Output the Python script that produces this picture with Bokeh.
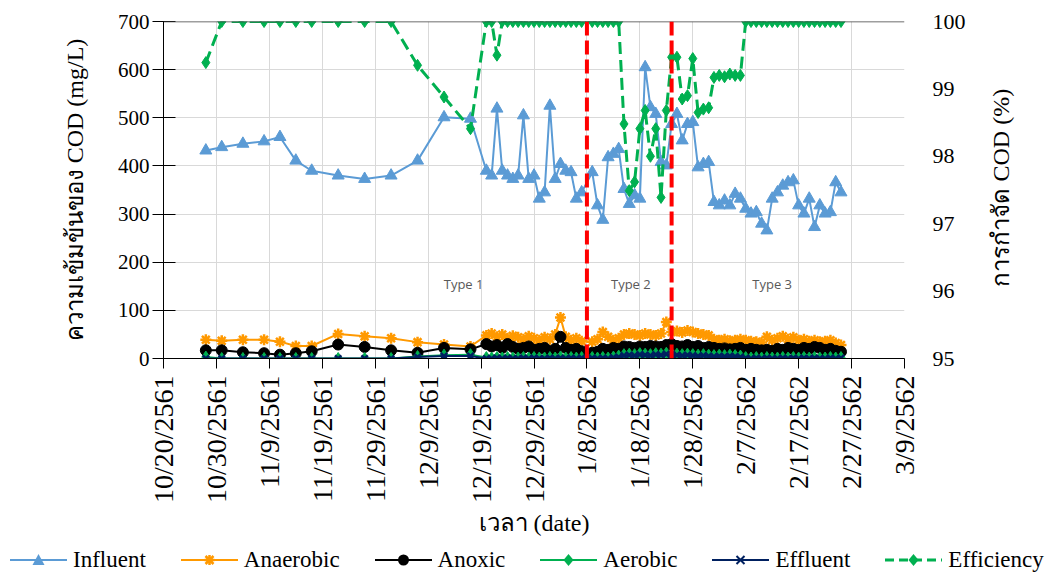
import math
import pandas as pd
from bokeh.plotting import figure
from bokeh.layouts import column
from bokeh.models import (Range1d, LinearAxis, FixedTicker, Span, Label, Div,
                          ColumnDataSource)
from bokeh.embed import file_html
from bokeh.resources import INLINE

# ---------------- data ----------------
axis_start = "2018-10-20"          # 10/20/2561 (Thai Buddhist year)

tick_labels = ["10/20/2561", "10/30/2561", "11/9/2561", "11/19/2561", "11/29/2561",
               "12/9/2561", "12/19/2561", "12/29/2561", "1/8/2562", "1/18/2562",
               "1/28/2562", "2/7/2562", "2/17/2562", "2/27/2562", "3/9/2562"]

sparse_dates = ["2018-10-28", "2018-10-31", "2018-11-04", "2018-11-08", "2018-11-11",
                "2018-11-14", "2018-11-17", "2018-11-22", "2018-11-27", "2018-12-02",
                "2018-12-07", "2018-12-12", "2018-12-17"]
daily_start, daily_end, missing_day = "2018-12-20", "2019-02-25", "2019-01-08"

phase_dates = ["2019-01-08", "2019-01-24"]
phase_names = ["Type 1", "Type 2", "Type 3"]

series_names = ["Influent", "Anaerobic", "Anoxic", "Aerobic", "Effluent", "Efficiency"]
series_cols = ["influent", "anaerobic", "anoxic", "aerobic", "effluent", "efficiency"]

influent = [432, 439, 446, 451, 460, 411, 390, 380, 373, 380, 411, 501, 498,
            390, 380, 519, 390, 380, 373, 380, 505, 373, 380, 332, 345, 525, 373, 404,
            390, 387, 332, 345,
            387, 318, 288,
            418, 425, 435, 352, 321, 339, 332, 605, 522, 508, 408, 401, 487, 508, 453,
            487, 491, 397, 404, 408, 325, 318, 328,
            318, 342, 332, 311, 301, 304, 280, 266, 332, 345, 359, 366, 370, 318, 301,
            332, 273, 318, 301, 304, 366, 345]

anaerobic = [39, 37, 39, 39, 35, 26, 26, 51, 46, 42, 34, 29, 25,
             48, 52, 45, 50, 42, 47, 44, 40, 46, 42, 38, 44, 40, 50, 85, 45, 38, 42, 36,
             35, 40, 55, 45, 38, 42, 50, 52, 50, 48, 52, 50, 48, 52, 76, 55, 57, 54, 58,
             55, 52, 50, 48, 40, 38, 40, 37, 38, 40, 38, 36, 35, 33, 45, 38, 42, 46, 40,
             44, 38, 40, 36, 38, 35, 36, 38, 32, 28]

anoxic = [17, 17, 13, 11, 8, 11, 15, 29, 24, 17, 12, 22, 19,
          30, 25, 28, 22, 30, 24, 20, 22, 25, 18, 20, 22, 15, 20, 45, 22, 18, 20, 15,
          12, 14, 20, 18, 22, 20, 25, 24, 22, 25, 24, 26, 25, 24, 28, 30, 26, 25, 28,
          24, 26, 22, 24, 22, 20, 21, 19, 20, 22, 18, 20, 18, 17, 18, 16, 20, 18, 22,
          20, 18, 22, 20, 24, 22, 18, 20, 16, 14]

aerobic = [3, 0, 0, 0, 0, 0, 0, 0, 0, 0, 4, 7, 8,
           2, 1, 2, 1, 2, 1, 1, 2, 1, 2, 1, 1, 2, 1, 3, 1, 2, 1, 2,
           2, 1, 2, 1, 3, 5,
           8, 9, 8, 10, 9, 8, 10, 9, 11, 10, 9, 8, 9, 8, 7, 8, 7, 6, 7, 6, 7, 6, 5,
           2, 1, 2, 1, 2, 1, 1, 2, 1, 2, 1, 2, 1, 2, 1, 1, 2, 1, 2]

effluent = [0, 0, 0, 0, 0, 0, 0, 0, 0, 0, 3, 5, 5,
            0, 0, 1, 0, 1, 0, 0, 1, 0, 1, 0, 0, 1, 0, 1, 0, 1, 0, 1,
            1, 0, 1, 0, 2, 3,
            6, 7, 6, 8, 7, 6, 8, 7, 9, 8, 7, 6, 7, 6, 5, 6, 5, 4, 5, 4, 5, 4, 3,
            1, 0, 1, 0, 1, 0, 0, 1, 0, 1, 0, 1, 0, 1, 0, 0, 1, 0, 1]

efficiency = [99.39, 100, 100, 100, 100, 100, 100, 100, 100, 100, 99.35, 98.88, 98.41,
              100, 100, 99.5, 100, 100, 100, 100, 100, 100, 100, 100, 100, 100, 100,
              100, 100, 100, 100, 100,
              100, 100, 100, 100, 100, 100,
              98.48, 97.49, 97.62, 98.41, 98.68, 98.0, 98.41, 97.39, 98.68, 99.47, 99.47,
              98.85, 98.9, 99.45, 98.65, 98.7, 98.72, 99.17, 99.2, 99.18, 99.22, 99.2, 99.2,
              100, 100, 100, 100, 100, 100, 100, 100, 100, 100, 100, 100, 100, 100, 100,
              100, 100, 100, 100]

left_title = "ความเข้มข้นของ COD (mg/L)"
right_title = "การกำจัด COD (%)"
x_title = "เวลา (date)"

# ---------------- derived positions ----------------
t0 = pd.Timestamp(axis_start)
dense = [d for d in pd.date_range(daily_start, daily_end) if d != pd.Timestamp(missing_day)]
all_dates = [pd.Timestamp(d) for d in sparse_dates] + dense
days = [(d - t0).days for d in all_dates]


def be_label_to_day(lbl):
    m, d, y = (int(v) for v in lbl.split("/"))
    return (pd.Timestamp(year=y - 543, month=m, day=d) - t0).days


tick_days = [be_label_to_day(l) for l in tick_labels]
phase_days = [(pd.Timestamp(d) - t0).days for d in phase_dates]

src = ColumnDataSource(dict(day=days, influent=influent, anaerobic=anaerobic,
                            anoxic=anoxic, aerobic=aerobic, effluent=effluent,
                            efficiency=efficiency))

# ---------------- styles ----------------
SERIF = "Liberation Serif"
W = 1045
C_INF, C_ANA, C_ANO, C_AER, C_EFF, C_PCT = "#5B9BD5", "#FF9900", "#000000", "#00B050", "#002060", "#00B050"
styles = {
    "influent": dict(color=C_INF, marker="triangle", size=12, lw=2, dash="solid", yr="default"),
    "anaerobic": dict(color=C_ANA, marker="asterisk", size=11, lw=2, dash="solid", yr="default"),
    "anoxic": dict(color=C_ANO, marker="circle", size=11, lw=2, dash="solid", yr="default"),
    "aerobic": dict(color=C_AER, marker="diamond", size=12, lw=2, dash="solid", yr="default"),
    "effluent": dict(color=C_EFF, marker="x", size=9, lw=2, dash="solid", yr="default"),
    "efficiency": dict(color=C_PCT, marker="diamond", size=12, lw=3, dash="12 6", yr="eff"),
}


def draw(fig, col, source, st):
    ln = fig.line("day", col, source=source, line_color=st["color"], line_width=st["lw"],
                  line_dash=st["dash"], y_range_name=st["yr"])
    if st["marker"] in ("asterisk", "x"):
        mk = fig.scatter("day", col, source=source, marker=st["marker"], size=st["size"],
                         line_color=st["color"], line_width=2.5, y_range_name=st["yr"])
    else:
        mk = fig.scatter("day", col, source=source, marker=st["marker"], size=st["size"],
                         fill_color=st["color"], line_color=st["color"], y_range_name=st["yr"])
    return [ln, mk]


# ---------------- main figure ----------------
p = figure(width=W, height=545, output_backend="svg", toolbar_location=None,
           x_range=Range1d(tick_days[0], tick_days[-1]), y_range=Range1d(0, 700),
           min_border_left=163, min_border_right=141, min_border_top=21,
           min_border_bottom=187)
p.extra_y_ranges = {"eff": Range1d(95, 100)}
p.outline_line_color = None
p.background_fill_color = "white"

xa = p.xaxis[0]
xa.ticker = FixedTicker(ticks=tick_days)
xa.major_label_overrides = {d: l for d, l in zip(tick_days, tick_labels)}
xa.major_label_orientation = math.pi / 2
xa.major_label_text_font = SERIF
xa.major_label_text_font_size = "28px"
xa.major_label_text_color = "black"
xa.major_label_standoff = 7
xa.axis_line_color = "black"
xa.major_tick_out = 10
xa.major_tick_in = 0
xa.minor_tick_line_color = None
xa.major_tick_line_color = "black"
xa.axis_label = x_title
xa.axis_label_text_font = SERIF
xa.axis_label_text_font_size = "24px"
xa.axis_label_text_font_style = "normal"
xa.axis_label_text_color = "black"
xa.axis_label_standoff = 4

ya = p.yaxis[0]
ya.ticker = FixedTicker(ticks=list(range(0, 701, 100)))
ya.major_label_text_font = SERIF
ya.major_label_text_font_size = "21px"
ya.major_label_text_color = "black"
ya.major_label_standoff = 3
ya.axis_line_color = "black"
ya.major_tick_in = 12
ya.major_tick_out = 11
ya.minor_tick_line_color = None
ya.axis_label = left_title
ya.axis_label_text_font = SERIF
ya.axis_label_text_font_size = "24px"
ya.axis_label_text_font_style = "normal"
ya.axis_label_text_color = "black"
ya.axis_label_standoff = 27

# right axis: tick labels
ra = LinearAxis(y_range_name="eff", ticker=FixedTicker(ticks=[95, 96, 97, 98, 99, 100]))
ra.axis_line_color = None
ra.major_tick_line_color = None
ra.minor_tick_line_color = None
ra.major_tick_in = 0
ra.major_tick_out = 0
ra.major_label_standoff = 28
ra.major_label_text_font = SERIF
ra.major_label_text_font_size = "22px"
ra.major_label_text_color = "black"
p.add_layout(ra, "right")

# right axis title: separate axis so it reads bottom-to-top; the label starts at the
# bottom of the axis, so it is led by non-breaking spaces to centre it like the original
rt = LinearAxis(y_range_name="eff", ticker=FixedTicker(ticks=[]))
rt.axis_line_color = None
rt.major_tick_line_color = None
rt.minor_tick_line_color = None
rt.major_tick_in = 0
rt.major_tick_out = 0
rt.major_label_text_font_size = "0px"
rt.axis_label = "\u00a0" * 12 + right_title
rt.axis_label_text_font = SERIF
rt.axis_label_text_font_size = "24px"
rt.axis_label_text_font_style = "normal"
rt.axis_label_text_color = "black"
rt.axis_label_standoff = 32
try:
    rt.axis_label_orientation = math.pi / 2
except Exception:
    pass
try:
    rt.axis_label_align = "start"
except Exception:
    pass
p.add_layout(rt, "right")

p.xgrid.ticker = FixedTicker(ticks=tick_days)
p.ygrid.ticker = FixedTicker(ticks=list(range(0, 701, 100)))
p.xgrid.grid_line_color = "#D9D9D9"
p.ygrid.grid_line_color = "#D9D9D9"
p.add_layout(Span(location=700, dimension="width", line_color="#3f3f3f", line_width=1.5))

for col in series_cols:
    draw(p, col, src, styles[col])

for d in phase_days:
    p.add_layout(Span(location=d, dimension="height", line_color="#FF0000",
                      line_width=4, line_dash="14 5"))

label_x = [56.7, 88.3, 115.0]
label_y = 155
for name, lx in zip(phase_names, label_x):
    p.add_layout(Label(x=lx, y=label_y, text=name, text_font="Open Sans",
                       text_font_size="13px", text_color="#595959",
                       text_align="center", text_baseline="middle"))


# ---------------- legend strip (HTML, real text) ----------------
def icon_svg(st):
    c = st["color"]
    dash = ' stroke-dasharray="9 5"' if st["dash"] != "solid" else ""
    parts = [f'<line x1="0" y1="12" x2="57" y2="12" stroke="{c}" stroke-width="{st["lw"]}"{dash}/>']
    cx, cy = 28.5, 12
    m = st["marker"]
    if m == "triangle":
        parts.append(f'<polygon points="{cx},{cy-6} {cx-6},{cy+5} {cx+6},{cy+5}" fill="{c}"/>')
    elif m == "circle":
        parts.append(f'<circle cx="{cx}" cy="{cy}" r="5.5" fill="{c}"/>')
    elif m == "diamond":
        parts.append(f'<polygon points="{cx},{cy-6} {cx+5},{cy} {cx},{cy+6} {cx-5},{cy}" fill="{c}"/>')
    elif m == "asterisk":
        parts.append(f'<path d="M{cx-5},{cy} H{cx+5} M{cx},{cy-5} V{cy+5} M{cx-4},{cy-4} L{cx+4},{cy+4} '
                     f'M{cx-4},{cy+4} L{cx+4},{cy-4}" stroke="{c}" stroke-width="2.5"/>')
    elif m == "x":
        parts.append(f'<path d="M{cx-4},{cy-4} L{cx+4},{cy+4} M{cx-4},{cy+4} L{cx+4},{cy-4}" '
                     f'stroke="{c}" stroke-width="2"/>')
    return ('<svg width="57" height="24" viewBox="0 0 57 24" style="display:block">'
            + "".join(parts) + "</svg>")


legend_html = ('<div style="display:flex;align-items:center;gap:35px;padding-left:10px;'
               f'font-family:\'{SERIF}\';font-size:23px;color:black;white-space:nowrap;'
               'height:30px;width:1040px">')
for name, col in zip(series_names, series_cols):
    legend_html += ('<div style="display:flex;align-items:center;gap:6px">'
                    + icon_svg(styles[col]) + f"<span>{name}</span></div>")
legend_html += "</div>"

legend_div = Div(text=legend_html, width=W, height=30, margin=(0, 0, 0, 0))

layout = column(p, legend_div, spacing=0)
open("out.html", "w").write(file_html(layout, INLINE))
